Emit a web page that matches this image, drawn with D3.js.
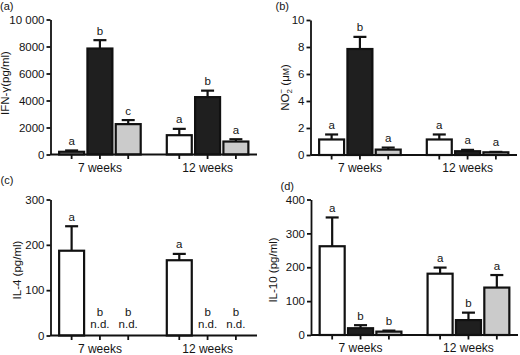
<!DOCTYPE html>
<html><head><meta charset="utf-8">
<script src="https://cdn.jsdelivr.net/npm/d3@7"></script>
<style>
html,body{margin:0;padding:0;background:#fff;}
svg text{font-family:"Liberation Sans",Arial,Helvetica,sans-serif;fill:#141414;}
</style></head>
<body>
<svg id="chart" width="520" height="355"></svg>
<script>
// ---- data ----
const groups = ["7 weeks", "12 weeks"];
const series = ["Group 1", "Group 2", "Group 3"];
const seriesFill = ["#ffffff", "#1f1f1f", "#cbcbcb"];

// values ordered: 7w (s1,s2,s3), 12w (s1,s2,s3)
const ifnMean = [200, 7850, 2250, 1430, 4250, 960];
const ifnSem  = [100, 620, 300, 470, 480, 170];
const ifnLetters = ["a", "b", "c", "a", "b", "a"];
const ifnTicks = [0, 2000, 4000, 6000, 8000, 10000];
const ifnTickLabels = ["0", "2000", "4000", "6000", "8000", "10 000"];

const no2Mean = [1.15, 7.85, 0.4, 1.15, 0.28, 0.2];
const no2Sem  = [0.37, 0.9, 0.15, 0.37, 0.1, 0.03];
const no2Letters = ["a", "b", "a", "a", "a", "a"];
const no2Ticks = [0, 2, 4, 6, 8, 10];
const no2TickLabels = ["0", "2", "4", "6", "8", "10"];

const il4Mean = [187, null, null, 166, null, null];
const il4Sem  = [54, null, null, 14, null, null];
const il4Letters = ["a", "b", "b", "a", "b", "b"];
const il4Ticks = [0, 100, 200, 300];
const il4TickLabels = ["0", "100", "200", "300"];

const il10Mean = [262, 20, 10, 181, 44, 140];
const il10Sem  = [85, 9, 3, 18, 22, 37];
const il10Letters = ["a", "b", "b", "a", "b", "a"];
const il10Ticks = [0, 100, 200, 300, 400];
const il10TickLabels = ["0", "100", "200", "300", "400"];

// ---- layout ----
const panels = [
  {tag:"(a)", mean:ifnMean, sem:ifnSem, letters:ifnLetters, ticks:ifnTicks, tickLabels:ifnTickLabels,
   max:10000, x0:50.5, x1:257, yTop:19.5, yBot:154.5, tagX:0, tagY:9.5, titleX:8.5, titleY:83, title:"IFN-γ(pg/ml)"},
  {tag:"(b)", mean:no2Mean, sem:no2Sem, letters:no2Letters, ticks:no2Ticks, tickLabels:no2TickLabels,
   max:10, x0:310.5, x1:517, yTop:20, yBot:155, tagX:275.5, tagY:9.5, titleX:288.5, titleY:87.5, title:"NO2"},
  {tag:"(c)", mean:il4Mean, sem:il4Sem, letters:il4Letters, ticks:il4Ticks, tickLabels:il4TickLabels,
   max:300, x0:50.5, x1:257, yTop:199.5, yBot:335.5, tagX:0.5, tagY:183.5, titleX:20.5, titleY:270, title:"IL-4 (pg/ml)"},
  {tag:"(d)", mean:il10Mean, sem:il10Sem, letters:il10Letters, ticks:il10Ticks, tickLabels:il10TickLabels,
   max:400, x0:311, x1:518, yTop:199.5, yBot:335, tagX:280.5, tagY:190, titleX:276.5, titleY:270, title:"IL-10 (pg/ml)"}
];

const svg = d3.select("#chart");
const fs = 11.5;
const ink = "#111";

panels.forEach(p => {
  const g = svg.append("g");
  const y = d3.scaleLinear().domain([0, p.max]).range([p.yBot, p.yTop]);
  const xg = d3.scaleBand().domain(groups).range([p.x0, p.x1]).paddingInner(0.222).paddingOuter(0.07);
  const xs = d3.scaleBand().domain(series).range([0, xg.bandwidth()]).paddingInner(0.04).paddingOuter(0);

  const rows = [];
  groups.forEach((gr, gi) => series.forEach((s, si) => {
    const i = gi * 3 + si;
    rows.push({g: gr, s: s, si: si, mean: p.mean[i], sem: p.sem[i], letter: p.letters[i]});
  }));
  const cx = d => xg(d.g) + xs(d.s) + xs.bandwidth() / 2;

  // bars
  const sw = 2.2;
  g.selectAll("rect.bar").data(rows.filter(d => d.mean != null)).join("rect")
    .attr("x", d => xg(d.g) + xs(d.s) + sw/2)
    .attr("width", xs.bandwidth() - sw)
    .attr("y", d => y(d.mean))
    .attr("height", d => Math.max(0, p.yBot - y(d.mean)))
    .attr("fill", d => seriesFill[d.si])
    .attr("stroke", ink).attr("stroke-width", sw);

  // error bars (upper)
  const eb = rows.filter(d => d.mean != null && d.sem != null);
  g.selectAll("line.ev").data(eb).join("line")
    .attr("x1", cx).attr("x2", cx)
    .attr("y1", d => y(d.mean)).attr("y2", d => y(d.mean + d.sem))
    .attr("stroke", ink).attr("stroke-width", 2.2);
  g.selectAll("line.ec").data(eb).join("line")
    .attr("x1", d => cx(d) - 6.5).attr("x2", d => cx(d) + 6.5)
    .attr("y1", d => y(d.mean + d.sem)).attr("y2", d => y(d.mean + d.sem))
    .attr("stroke", ink).attr("stroke-width", 2.2);

  // letters
  g.selectAll("text.let").data(rows).join("text")
    .attr("x", cx)
    .attr("y", d => d.mean == null ? p.yBot - 19.5 : y(d.mean + (d.sem || 0)) - 5.5)
    .attr("text-anchor", "middle").attr("font-size", fs)
    .text(d => d.letter);
  g.selectAll("text.nd").data(rows.filter(d => d.mean == null)).join("text")
    .attr("x", cx).attr("y", p.yBot - 7.5)
    .attr("text-anchor", "middle").attr("font-size", fs)
    .text("n.d.");

  // y axis
  const ya = g.append("g").attr("transform", `translate(${p.x0},0)`)
    .call(d3.axisLeft(y).tickValues(p.ticks).tickSize(4).tickSizeOuter(0).tickPadding(2)
      .tickFormat((d, i) => p.tickLabels[i]));
  ya.attr("font-family", null).attr("font-size", null);
  ya.selectAll("text").attr("font-size", fs);
  ya.select(".domain").attr("stroke", ink).attr("stroke-width", 1.8);
  ya.selectAll(".tick line").attr("stroke", ink).attr("stroke-width", 1.8);

  // x axis
  g.append("line").attr("x1", p.x0).attr("x2", p.x1).attr("y1", p.yBot).attr("y2", p.yBot)
    .attr("stroke", ink).attr("stroke-width", 1.8);
  g.selectAll("line.xt").data(rows).join("line")
    .attr("x1", cx).attr("x2", cx).attr("y1", p.yBot).attr("y2", p.yBot + 4.5)
    .attr("stroke", ink).attr("stroke-width", 1.8);
  g.selectAll("text.xl").data(groups).join("text")
    .attr("x", d => xg(d) + xg.bandwidth() / 2).attr("y", p.yBot + 17)
    .attr("text-anchor", "middle").attr("font-size", 12)
    .text(d => d);

  // panel tag
  g.append("text").attr("x", p.tagX).attr("y", p.tagY).attr("font-size", 11).text(p.tag);

  // y title
  const t = g.append("text").attr("transform", `translate(${p.titleX},${p.titleY}) rotate(-90)`)
    .attr("text-anchor", "middle").attr("font-size", fs);
  if (p.title === "NO2") {
    t.append("tspan").text("NO");
    t.append("tspan").attr("font-size", 8).attr("dy", 3).text("2");
    t.append("tspan").attr("font-size", 8).attr("dx", -4.5).attr("dy", -8).text("−");
    t.append("tspan").attr("dy", 5).text(" (μ");
    t.append("tspan").attr("font-size", 8.5).text("M");
    t.append("tspan").text(")");
  } else {
    t.text(p.title);
  }
});
</script>
</body></html>
